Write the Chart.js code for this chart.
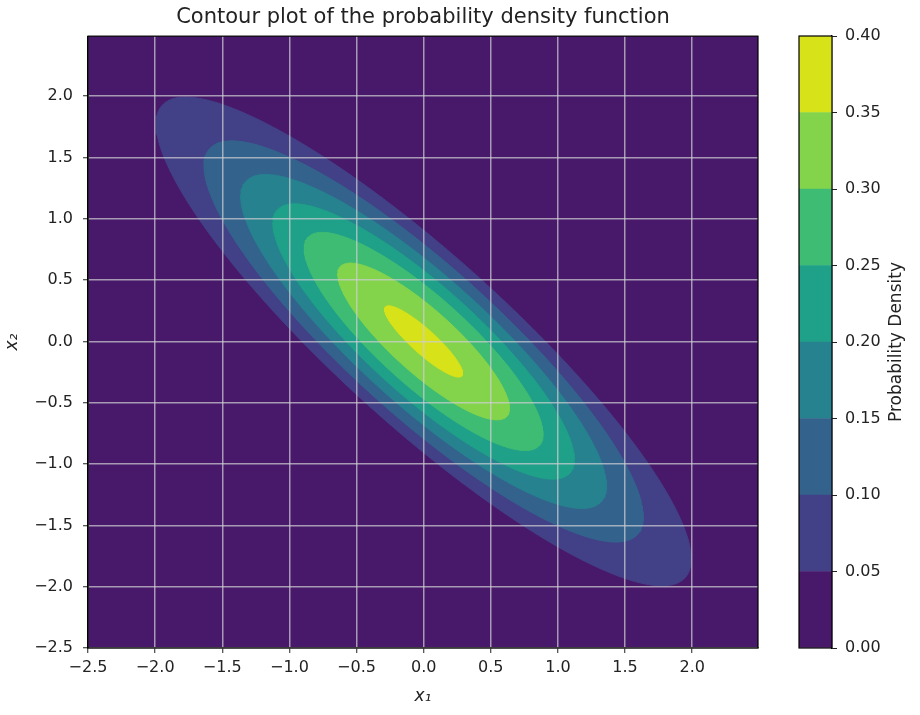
<!DOCTYPE html>
<html>
<head>
<meta charset="utf-8">
<title>Contour plot</title>
<script src="https://cdn.jsdelivr.net/npm/chart.js@4.4.1/dist/chart.umd.min.js"></script>
<style>
  html, body { margin: 0; padding: 0; background: #fff; }
  #wrap { position: relative; width: 920px; height: 715px; }
  #main { position: absolute; left: 0; top: 0; }
  #cbar { position: absolute; left: 790px; top: 0; }
</style>
</head>
<body>
<div id="wrap">
  <canvas id="main" width="790" height="715"></canvas>
  <canvas id="cbar" width="130" height="715"></canvas>
</div>
<script>
// contour levels of the density (colour bar bounds)
const levels = [0, 0.05, 0.10, 0.15, 0.20, 0.25, 0.30, 0.35, 0.40];
// each filled contour is an ellipse round the centre
const contourLevels = [0.05, 0.10, 0.15, 0.20, 0.25, 0.30, 0.35];
const semiMajor = [2.74, 2.24, 1.86, 1.53, 1.21, 0.87, 0.40];
const semiMinor = [0.66, 0.58, 0.50, 0.425, 0.345, 0.245, 0.095];
const centre = [0, 0];
const majorAxisAngle = -45; // degrees, in data units

const xTicks = [-2.5, -2.0, -1.5, -1.0, -0.5, 0.0, 0.5, 1.0, 1.5, 2.0];
const yTicks = [-2.5, -2.0, -1.5, -1.0, -0.5, 0.0, 0.5, 1.0, 1.5, 2.0];
const cbarTicks = levels;

// viridis at the band midpoints
const bandColors = ['#48186a', '#424086', '#33638d', '#26828e', '#1fa088', '#3fbc73', '#84d44b', '#d8e219'];

const FONT = "'DejaVu Sans', sans-serif";
const TXT = '#222';

function fmt1(v) {
    return (v < 0 ? '\u2212' : '') + Math.abs(v).toFixed(1);
}

function ellipse(a, b) {
    const t = majorAxisAngle * Math.PI / 180;
    const ux = Math.cos(t), uy = Math.sin(t);
    const vx = -uy, vy = ux;
    const pts = [];
    const n = 240;
    for (let k = 0; k <= n; k++) {
        const th = k / n * 2 * Math.PI;
        const p = a * Math.cos(th), q = b * Math.sin(th);
        pts.push({ x: centre[0] + p * ux + q * vx, y: centre[1] + p * uy + q * vy });
    }
    return pts;
}

const contourSets = contourLevels.map((lv, i) => ({
    label: lv.toFixed(2),
    data: ellipse(semiMajor[i], semiMinor[i]),
    showLine: true,
    fill: 'shape',
    backgroundColor: bandColors[i + 1],
    borderColor: bandColors[i + 1],
    borderWidth: 1,
    pointRadius: 0,
    order: contourLevels.length - i
}));

// lowest band under everything, spines on top
const framePlugin = {
    id: 'frame',
    beforeDatasetsDraw(chart) {
        const { ctx, chartArea: a } = chart;
        ctx.save();
        ctx.fillStyle = bandColors[0];
        ctx.fillRect(a.left, a.top, a.right - a.left, a.bottom - a.top);
        ctx.restore();
    },
    afterDraw(chart) {
        const { ctx, chartArea: a } = chart;
        ctx.save();
        ctx.strokeStyle = '#000';
        ctx.lineWidth = 1.2;
        ctx.strokeRect(a.left, a.top, a.right - a.left, a.bottom - a.top);
        ctx.restore();
    }
};

// grid (and border, so it is placed after the grid) drawn over the filled contours
const axisGrid = {
    z: 1,
    color: 'rgba(205,205,210,0.72)',
    lineWidth: 1.5,
    tickLength: 5,
    tickColor: '#222',
    tickWidth: 1
};
const axisBorder = { z: 1, color: '#000', width: 1.2 };

new Chart(document.getElementById('main'), {
    type: 'scatter',
    data: { datasets: contourSets },
    options: {
        responsive: false,
        animation: false,
        events: [],
        layout: { padding: { left: 0, right: 32, top: 0, bottom: 0 } },
        plugins: {
            legend: { display: false },
            tooltip: { enabled: false },
            title: {
                display: true,
                fullSize: false,
                text: 'Contour plot of the probability density function',
                color: TXT,
                font: { family: FONT, size: 21, weight: 'normal', lineHeight: 1.15 },
                padding: { top: 5, bottom: 7 }
            }
        },
        scales: {
            x: {
                type: 'linear',
                min: -2.5,
                max: 2.49,
                afterFit: s => { s.height = 67; },
                afterBuildTicks: s => { s.ticks = xTicks.map(v => ({ value: v })); },
                ticks: { callback: v => fmt1(v), color: TXT, font: { family: FONT, size: 16 }, padding: 5, maxRotation: 0 },
                grid: axisGrid,
                border: axisBorder,
                title: { display: true, text: 'x\u2081', color: TXT, font: { family: FONT, size: 17, style: 'italic' }, padding: { top: 4, bottom: 8 } }
            },
            y: {
                type: 'linear',
                min: -2.5,
                max: 2.49,
                afterFit: s => { s.width = 88; },
                afterBuildTicks: s => { s.ticks = yTicks.map(v => ({ value: v })); },
                ticks: { callback: v => fmt1(v), color: TXT, font: { family: FONT, size: 16 }, padding: 10 },
                grid: axisGrid,
                border: axisBorder,
                title: { display: true, text: 'x\u2082', color: TXT, font: { family: FONT, size: 17, style: 'italic' }, padding: { top: 2, bottom: 4 } }
            }
        }
    },
    plugins: [framePlugin]
});

// colour bar
const cbarPlugin = {
    id: 'cbarFrame',
    afterDraw(chart) {
        const { ctx, chartArea: a } = chart;
        ctx.save();
        ctx.strokeStyle = '#000';
        ctx.lineWidth = 1.2;
        ctx.strokeRect(a.left, a.top, a.right - a.left, a.bottom - a.top);
        ctx.translate(107, (a.top + a.bottom) / 2);
        ctx.rotate(-Math.PI / 2);
        ctx.fillStyle = TXT;
        ctx.font = '17px ' + FONT;
        ctx.textAlign = 'center';
        ctx.textBaseline = 'middle';
        ctx.fillText('Probability Density', 0, 0);
        ctx.restore();
    }
};

new Chart(document.getElementById('cbar'), {
    type: 'bar',
    data: {
        labels: [''],
        datasets: bandColors.map((c, i) => ({
            label: levels[i].toFixed(2),
            data: [levels[i + 1] - levels[i]],
            backgroundColor: c,
            borderWidth: 0,
            barPercentage: 1,
            categoryPercentage: 1
        }))
    },
    options: {
        responsive: false,
        animation: false,
        events: [],
        layout: { padding: { left: 9, right: 0, top: 36, bottom: 67 } },
        plugins: { legend: { display: false }, tooltip: { enabled: false } },
        scales: {
            x: { stacked: true, display: false },
            y: {
                stacked: true,
                position: 'right',
                min: 0,
                max: 0.4,
                afterFit: s => { s.width = 88; },
                afterBuildTicks: s => { s.ticks = cbarTicks.map(v => ({ value: v })); },
                ticks: { callback: v => v.toFixed(2), color: TXT, font: { family: FONT, size: 16 }, padding: 8 },
                grid: { drawOnChartArea: false, tickLength: 5, tickColor: '#222' },
                border: { color: '#000', width: 1.2 }
            }
        }
    },
    plugins: [cbarPlugin]
});
</script>
</body>
</html>
